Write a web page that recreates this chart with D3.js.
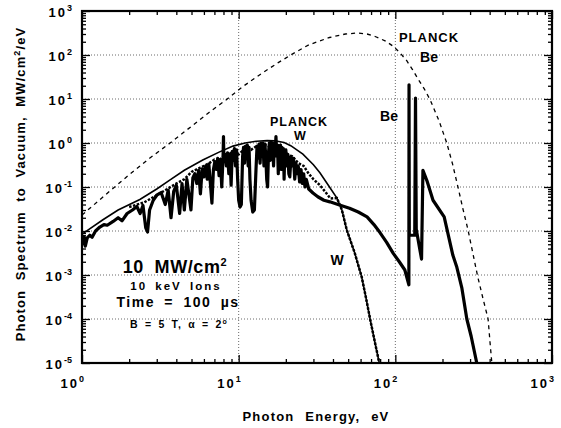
<!DOCTYPE html>
<html>
<head>
<meta charset="utf-8">
<script src="https://cdn.jsdelivr.net/npm/d3@7"></script>
<style>
  body { margin: 0; background: #fff; }
  text { font-family: "Liberation Sans", Arial, sans-serif; font-weight: bold; fill: #000; }
</style>
</head>
<body>
<svg id="chart" width="561" height="428"></svg>
<script>
// [photon energy eV, MW/cm2/eV]
const planckBe = [
  [1.0, 0.023], [1.09, 0.03], [1.5, 0.08], [2.0, 0.19], [2.7, 0.45], [3.65, 1.0],
  [5.0, 2.4], [6.5, 5.0], [8.3, 9.5], [10.6, 19], [14, 38], [18, 68], [22, 105],
  [28, 170], [38, 250], [48, 300], [57, 316], [66, 300], [75, 260], [86, 210],
  [97, 158], [107, 112], [118, 75], [129, 46], [140, 28], [153, 17], [167, 9.5],
  [190, 3.2], [213, 1.0], [232, 0.33], [251, 0.1], [270, 0.032], [291, 0.0106],
  [312, 0.0032], [336, 0.0009], [362, 0.0003], [391, 0.0001], [402, 0.00003], [413, 0.00001]
];

const planckW = [
  [1.0, 0.0085], [1.36, 0.018], [1.7, 0.03], [2.34, 0.052], [3.0, 0.09], [3.65, 0.145],
  [4.5, 0.24], [5.9, 0.41], [7.5, 0.62], [9.2, 0.85], [11, 1.0], [13, 1.1], [15.2, 1.13],
  [17, 1.12], [19.5, 1.03], [21.5, 0.87], [25.7, 0.56], [30, 0.32], [33, 0.21],
  [38, 0.1], [42.4, 0.056], [45.6, 0.03], [49, 0.0105], [55, 0.0032], [61, 0.0009],
  [65, 0.0003], [69, 0.0001], [74, 0.00003], [79, 0.00001]
];

const spectrumW = [
  [1.0, 0.005], [1.03, 0.0075], [1.05, 0.0045], [1.08, 0.007], [1.12, 0.008], [1.16, 0.0072],
  [1.22, 0.01], [1.3, 0.0123], [1.38, 0.014], [1.45, 0.0135], [1.58, 0.0165], [1.7, 0.02],
  [1.8, 0.017], [1.94, 0.025], [2.1, 0.03], [2.24, 0.036], [2.35, 0.025], [2.45, 0.038],
  [2.55, 0.012], [2.62, 0.0095], [2.7, 0.03], [2.85, 0.05], [3.0, 0.065], [3.2, 0.075],
  [3.4, 0.04], [3.55, 0.085], [3.7, 0.02], [3.85, 0.08], [4.0, 0.11], [4.2, 0.025],
  [4.35, 0.12], [4.5, 0.03], [4.67, 0.15], [4.96, 0.03], [5.1, 0.16], [5.25, 0.2],
  [5.4, 0.12], [5.55, 0.24], [5.7, 0.07], [5.85, 0.26], [6.0, 0.17], [6.15, 0.3],
  [6.3, 0.15], [6.45, 0.33], [6.6, 0.12], [6.75, 0.043], [6.9, 0.25], [7.05, 0.38],
  [7.2, 0.25], [7.35, 0.45], [7.5, 0.18], [7.65, 0.42], [7.8, 0.1], [7.95, 0.48],
  [8.0, 1.4], [8.05, 0.4], [8.2, 0.55], [8.35, 0.3], [8.5, 0.6], [8.65, 0.2], [8.8, 0.55],
  [8.95, 0.11], [9.1, 0.65], [9.25, 0.4], [9.4, 0.75], [9.55, 0.3], [9.7, 0.7],
  [9.85, 0.15], [10.0, 0.05], [10.2, 0.035], [10.4, 0.04], [10.6, 0.5], [10.75, 0.8],
  [10.9, 0.35], [11.05, 0.85], [11.2, 0.5], [11.35, 0.9], [11.5, 0.3], [11.65, 0.8],
  [11.8, 0.15], [12.0, 0.05], [12.3, 0.027], [12.6, 0.03], [12.9, 0.25], [13.1, 0.85],
  [13.3, 0.45], [13.5, 0.95], [13.7, 0.35], [13.9, 1.0], [14.1, 0.5], [14.3, 1.0],
  [14.5, 0.3], [14.7, 0.95], [14.9, 0.5], [15.1, 0.15], [15.3, 0.1], [15.5, 0.6],
  [15.7, 1.0], [15.9, 0.4], [16.1, 1.05], [16.3, 0.5], [16.5, 1.0], [16.7, 0.3],
  [16.9, 0.95], [17.1, 0.6], [17.3, 1.4], [17.5, 0.5], [17.7, 0.9], [17.9, 0.2],
  [18.1, 0.85], [18.3, 0.35], [18.5, 0.9], [18.7, 0.25], [18.9, 0.8], [19.1, 0.4],
  [19.3, 0.75], [19.5, 0.15], [19.7, 0.6], [20.0, 0.7], [20.3, 0.3], [20.6, 0.55],
  [20.9, 0.2], [21.2, 0.17], [21.6, 0.5], [22.0, 0.3], [22.4, 0.45], [22.8, 0.15],
  [23.2, 0.35], [23.6, 0.2], [24.0, 0.3], [24.5, 0.13], [25.0, 0.25], [25.5, 0.12],
  [26.0, 0.2], [26.5, 0.1], [27.0, 0.15], [28.0, 0.09], [29.8, 0.073], [32, 0.06],
  [35, 0.05], [38.2, 0.046], [44, 0.039], [51, 0.033], [58, 0.027], [66, 0.021],
  [73, 0.014], [80, 0.0091], [88, 0.0055], [97, 0.0031], [106, 0.002], [115, 0.0013],
  [122, 0.0006], [122.3, 21], [122.8, 0.008], [133, 0.008], [134.5, 10.5], [136, 0.011],
  [147, 0.0023], [150, 0.24], [159, 0.14], [174, 0.05], [205, 0.021], [233, 0.0028],
  [247, 0.0015], [266, 0.0005], [286, 0.0001], [305, 0.00004], [331, 0.00001]
];

const spectrumDotted = [
  [2.0, 0.035], [2.5, 0.045], [3.0, 0.065], [3.5, 0.09], [4.0, 0.12], [4.5, 0.15],
  [5.0, 0.22], [5.5, 0.26], [6.0, 0.3], [6.5, 0.35], [7.0, 0.42], [7.5, 0.4], [8.0, 0.5],
  [9.0, 0.6], [10, 0.55], [11, 0.75], [12, 0.7], [13, 0.85], [14, 0.75], [15, 0.9],
  [16, 0.8], [17, 0.85], [18, 0.7], [19, 0.75], [20, 0.55], [22, 0.5], [24, 0.35],
  [26, 0.3], [28, 0.2], [30, 0.15], [33, 0.11], [36, 0.075], [38.5, 0.055],
  [42.4, 0.056], [45.6, 0.03], [49, 0.0105], [55, 0.0032], [61, 0.0009],
  [65, 0.0003], [69, 0.0001], [74, 0.00003], [79, 0.00001]
];

const xTickExps = [0, 1, 2, 3];
const yTickExps = [3, 2, 1, 0, -1, -2, -3, -4, -5];

const svg = d3.select('#chart');
const m = { left: 82, right: 552, top: 11, bottom: 363 };

const x = d3.scaleLog().domain([1, 1000]).range([m.left, m.right]);
const y = d3.scaleLog().domain([1e-5, 1e3]).range([m.bottom, m.top]);

// dotted grid at decades
const grid = svg.append('g')
  .attr('stroke', '#444').attr('stroke-width', 0.8).attr('stroke-dasharray', '1,2');
grid.selectAll('.gx').data(xTickExps.slice(1, -1)).enter().append('line')
  .attr('x1', d => x(10 ** d)).attr('x2', d => x(10 ** d))
  .attr('y1', m.top).attr('y2', m.bottom);
grid.selectAll('.gy').data(yTickExps.slice(1, -1)).enter().append('line')
  .attr('y1', d => y(10 ** d)).attr('y2', d => y(10 ** d))
  .attr('x1', m.left).attr('x2', m.right);

// inward ticks on all four sides
const isMajor = v => Math.abs(Math.log10(v) - Math.round(Math.log10(v))) < 1e-9;
const xMinor = x.ticks().filter(v => !isMajor(v));
const yMinor = y.ticks().filter(v => !isMajor(v));
const xMajor = xTickExps.map(e => 10 ** e);
const yMajor = yTickExps.map(e => 10 ** e);

function tickAxis(axisFn, scale, vals, size, transform) {
  const g = svg.append('g').attr('transform', transform)
    .call(axisFn(scale).tickValues(vals).tickSize(-size).tickFormat(''));
  g.select('.domain').remove();
  g.selectAll('line').attr('stroke', '#000').attr('stroke-width', 1.3);
}
tickAxis(d3.axisBottom, x, xMinor, 4, `translate(0,${m.bottom})`);
tickAxis(d3.axisBottom, x, xMajor, 8, `translate(0,${m.bottom})`);
tickAxis(d3.axisTop, x, xMinor, 4, `translate(0,${m.top})`);
tickAxis(d3.axisTop, x, xMajor, 8, `translate(0,${m.top})`);
tickAxis(d3.axisLeft, y, yMinor, 4, `translate(${m.left},0)`);
tickAxis(d3.axisLeft, y, yMajor, 8, `translate(${m.left},0)`);
tickAxis(d3.axisRight, y, yMinor, 4, `translate(${m.right},0)`);
tickAxis(d3.axisRight, y, yMajor, 8, `translate(${m.right},0)`);

// frame
svg.append('rect')
  .attr('x', m.left).attr('y', m.top).attr('width', m.right - m.left).attr('height', m.bottom - m.top)
  .attr('fill', 'none').attr('stroke', '#000').attr('stroke-width', 2.2);

// tick labels
function powLabel(g, e, px, py, anchor) {
  const t = g.append('text').attr('x', px).attr('y', py).attr('text-anchor', anchor)
    .style('font-size', '13px').style('letter-spacing', '2px');
  t.append('tspan').text('10');
  t.append('tspan').attr('dy', -6).style('font-size', '9px').style('letter-spacing', '0px').text(e);
}
const labels = svg.append('g');
xTickExps.forEach(e => powLabel(labels, e, x(10 ** e) + 2, 388, 'end'));
yTickExps.forEach(e => powLabel(labels, e, 72, y(10 ** e) + 6, 'end'));

// axis titles
svg.append('text').attr('x', 316).attr('y', 421).attr('text-anchor', 'middle')
  .style('font-size', '13px').style('letter-spacing', '1.2px').style('word-spacing', '6px')
  .text('Photon Energy, eV');

const yt = svg.append('text').attr('transform', 'translate(25,184) rotate(-90)')
  .attr('text-anchor', 'middle')
  .style('font-size', '13px').style('letter-spacing', '1.1px').style('word-spacing', '5px');
yt.append('tspan').text('Photon Spectrum to Vacuum, MW/cm');
yt.append('tspan').attr('dy', -5).style('font-size', '9px').text('2');
yt.append('tspan').attr('dy', 5).text('/eV');

// curves
svg.append('clipPath').attr('id', 'clip').append('rect')
  .attr('x', m.left).attr('y', m.top).attr('width', m.right - m.left).attr('height', m.bottom - m.top);
const plot = svg.append('g').attr('clip-path', 'url(#clip)');

const line = d3.line().x(d => x(d[0])).y(d => y(d[1]));

plot.append('path').datum(planckBe).attr('d', line)
  .attr('fill', 'none').attr('stroke', '#000').attr('stroke-width', 1.3)
  .attr('stroke-dasharray', '4,4');
plot.append('path').datum(spectrumDotted).attr('d', line)
  .attr('fill', 'none').attr('stroke', '#000').attr('stroke-width', 2.5)
  .attr('stroke-dasharray', '2.5,1.5');
plot.append('path').datum(planckW).attr('d', line)
  .attr('fill', 'none').attr('stroke', '#000').attr('stroke-width', 1.6);
plot.append('path').datum(spectrumW).attr('d', line)
  .attr('fill', 'none').attr('stroke', '#000').attr('stroke-width', 3.2)
  .attr('stroke-linejoin', 'round');

// annotations
const ann = svg.append('g');
function note(txt, px, py, size, ls) {
  return ann.append('text').attr('x', px).attr('y', py).attr('text-anchor', 'middle')
    .style('font-size', size + 'px').style('letter-spacing', (ls || 0) + 'px').text(txt);
}
note('PLANCK', 299, 126, 12.5, 1);
note('W', 300, 140, 12.5, 0);
note('PLANCK', 429, 42, 13, 1);
note('Be', 429, 62, 14, 0);
note('Be', 389, 121, 14, 0);
note('W', 337, 265, 14, 0);

const t1 = ann.append('text').attr('x', 175).attr('y', 273).attr('text-anchor', 'middle')
  .style('font-size', '18px').style('letter-spacing', '0.6px').style('word-spacing', '5px');
t1.append('tspan').text('10 MW/cm');
t1.append('tspan').attr('dy', -7).style('font-size', '11px').text('2');
note('10 keV Ions', 176, 290, 11.5, 2).style('word-spacing', '3px');
note('Time = 100 \u00b5s', 178, 307, 14, 1.5).style('word-spacing', '4px');
const t4 = ann.append('text').attr('x', 179).attr('y', 328).attr('text-anchor', 'middle')
  .style('font-size', '10.5px').style('letter-spacing', '1.2px').style('word-spacing', '2px');
t4.append('tspan').text('B = 5 T, \u03b1 = 2');
t4.append('tspan').attr('dy', -4).style('font-size', '7px').text('o');
</script>
</body>
</html>
